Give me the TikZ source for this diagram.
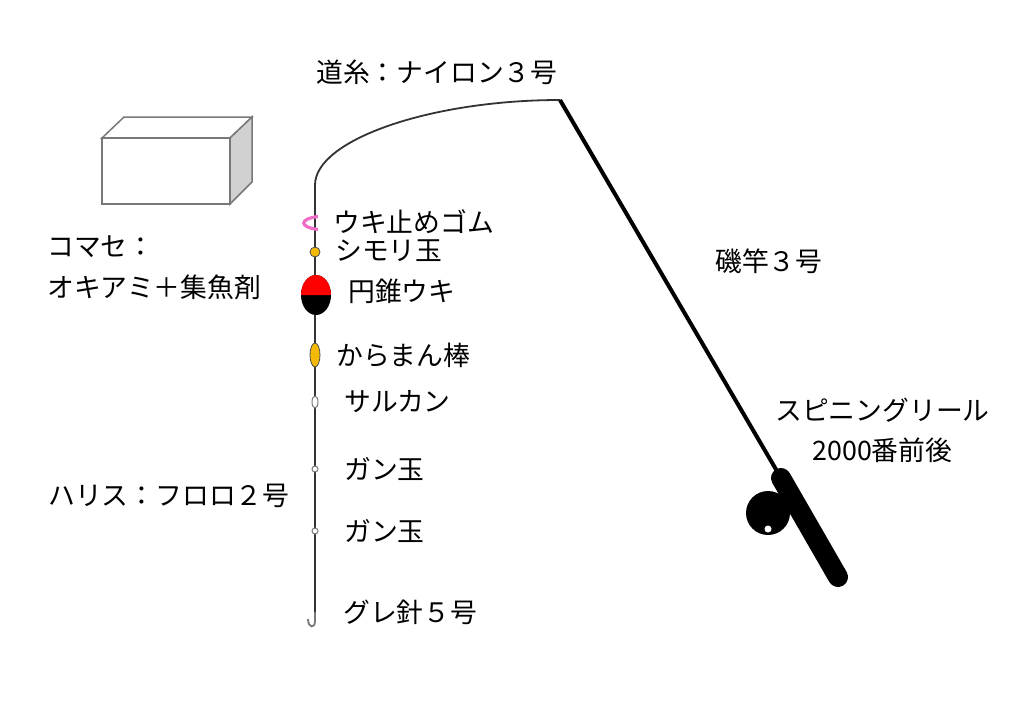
\documentclass[tikz,border=0pt]{standalone}
\usepackage{fontspec}
\setmainfont{Noto Sans CJK JP}
\definecolor{kiiro}{RGB}{245,185,10}
\definecolor{momo}{RGB}{240,110,200}
\definecolor{hai}{RGB}{120,120,120}
\begin{document}
\begin{tikzpicture}[x=1pt,y=-1pt,
  lbl/.style={anchor=west,inner sep=0pt,font=\fontsize{26.8}{30}\selectfont},
  ito/.style={draw=black!80,line width=1.8pt},
  dama/.style={draw=black!70,line width=0.8pt,fill=kiiro}]
\useasboundingbox (0,0) rectangle (1024,716);
\coordinate (ue) at (315,185);
\coordinate (hari) at (315,612);
\coordinate (saki) at (560,100);
\coordinate (grip) at (781,478);
\coordinate (jiri) at (838,577);
\draw[ito] (ue) .. controls (315,140) and (430,100) .. (saki);
\draw[ito] (ue) -- (hari);
\draw[ito,draw=hai] (hari) -- (315,621) .. controls (315,629) and (308,628) .. (308,619);
\draw[line width=4pt] (saki) -- (grip);
\draw[line width=20pt,line cap=round] (grip) -- (jiri);
\fill (768,513) circle (22);
\fill[white] (768,529) circle (3.5);
\draw[momo,line width=3.2pt] (318,216.5) .. controls (299,219) and (299,227) .. (318,229.5);
\filldraw[dama] (315,252) circle (5);
\fill (316,295) ellipse (15 and 20);
\fill[red] (301,295) arc[start angle=180,end angle=360,x radius=15,y radius=20] -- cycle;
\filldraw[dama] (315,355) ellipse (5 and 12);
\filldraw[draw=hai,fill=white,line width=1pt] (315,402) ellipse (3 and 6);
\filldraw[draw=hai,fill=white,line width=1pt] (315,469) circle (3);
\filldraw[draw=hai,fill=white,line width=1pt] (315,531) circle (3);
\filldraw[draw=hai,fill=white,line width=1.5pt] (102,138) -- (124,117) -- (252,117) -- (230,138) -- cycle;
\filldraw[draw=hai,fill=white,line width=1.5pt] (102,138) rectangle (230,204);
\filldraw[draw=hai,fill=black!18,line width=1.5pt] (230,138) -- (252,117) -- (252,182) -- (230,204) -- cycle;
\node[lbl] (michiito) at (316,72) {道糸：ナイロン３号};
\node[lbl] (ukidome) at (333,222) {ウキ止めゴム};
\node[lbl] (shimori) at (335,251) {シモリ玉};
\node[lbl] (uki) at (348,291) {円錐ウキ};
\node[lbl] (karaman) at (336,355) {からまん棒};
\node[lbl] (sarukan) at (344,402) {サルカン};
\node[lbl] (gan1) at (344,469) {ガン玉};
\node[lbl] (gan2) at (344,531) {ガン玉};
\node[lbl] (guresh) at (343,612) {グレ針５号};
\node[lbl] (harisu) at (48,496) {ハリス：フロロ２号};
\node[lbl] (komase) at (47,247) {コマセ：};
\node[lbl] (esa) at (47,287) {オキアミ＋集魚剤};
\node[lbl] (sao) at (715,261) {磯竿３号};
\node[lbl] (reel) at (775,410) {スピニングリール};
\node[anchor=north,inner sep=0pt,font=\fontsize{26.8}{30}\selectfont] (bangou) at (reel.south) [yshift=-15pt] {2000番前後};
\end{tikzpicture}
\end{document}
